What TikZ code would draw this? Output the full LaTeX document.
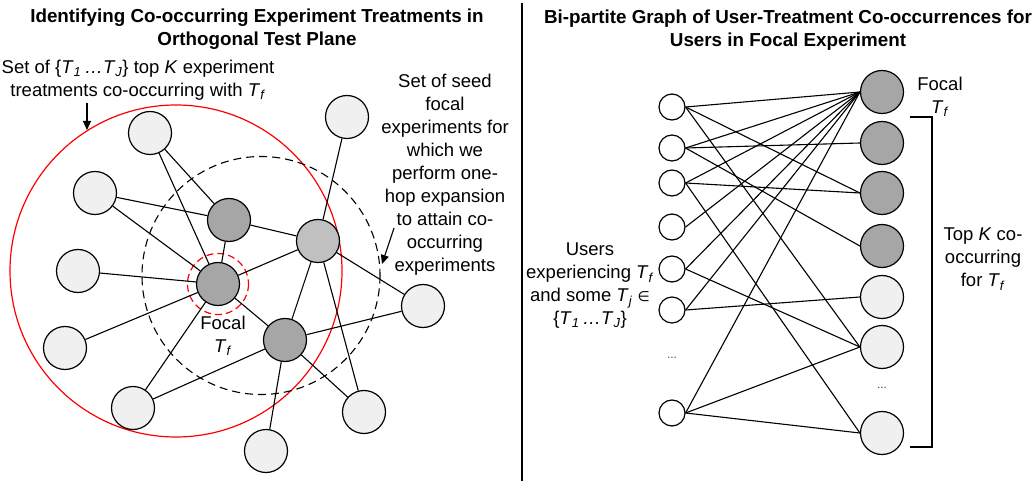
\documentclass[tikz,border=0pt]{standalone}
\usepackage{fontspec}
\setmainfont{Liberation Sans}
\newfontfamily\symfont{DejaVu Sans}
\usetikzlibrary{arrows.meta}
\newcommand{\Tf}{\textit{T}\textsubscript{\textit{f}}}
\newcommand{\TsetJ}{\{\textit{T}\textsubscript{\textit{1}}\,\textit{\dots T}\textsubscript{\textit{J}}\}}
\definecolor{darkfill}{HTML}{A6A6A6}
\definecolor{midfill}{HTML}{C0C0C0}
\definecolor{lightfill}{HTML}{F0F0F0}
\definecolor{ringred}{HTML}{FF0000}
\tikzset{
  base/.style={circle, draw=black, line width=1.2pt, inner sep=0pt},
  exlight/.style={base, fill=lightfill, minimum size=43pt},
  exdark/.style={base, fill=darkfill, minimum size=43pt},
  exmid/.style={base, fill=midfill, minimum size=43pt},
  usernode/.style={base, fill=white, minimum size=26pt},
  link/.style={draw=black, line width=1.1pt},
  label/.style={font=\fontsize{18.5}{23}\selectfont, align=center, inner sep=0pt},
  heading/.style={font=\fontsize{18.8}{23}\selectfont\bfseries, align=center, inner sep=0pt},
  dots/.style={font=\fontsize{12}{14}\selectfont, text=black!70, inner sep=0pt},
}
\begin{document}
\begin{tikzpicture}[x=1pt,y=-1pt]
\useasboundingbox (0,0) rectangle (1034,481);
\fill[white] (0,0) rectangle (1034,481);

% ---------- headings and divider ----------
\node[heading] (t1) at (257,29.5) {Identifying Co-occurring Experiment Treatments in\\Orthogonal Test Plane};
\node[heading] (t2) at (788,30) {Bi-partite Graph of User-Treatment Co-occurrences for\\Users in Focal Experiment};
\coordinate (divtop) at (522,3);
\coordinate (divbot) at (522,481);
\draw[line width=2pt] (divtop) -- (divbot);

% ---------- left panel: co-occurrence neighbourhood ----------
\draw[ringred, line width=1.2pt] (176,271) circle (166);
\draw[black, line width=1.1pt, dash pattern=on 8pt off 5pt] (261,275.5) circle (119);
\draw[ringred, line width=1.2pt, dash pattern=on 7pt off 4pt] (218,284) circle (30.5);

\node[exlight] (A) at (150,133) {};
\node[exlight] (B) at (95,193) {};
\node[exlight] (C) at (347,117) {};
\node[exdark]  (D) at (229,220) {};
\node[exmid]   (E) at (318,241) {};
\node[exdark]  (F) at (218,284) {};
\node[exdark]  (G) at (285,340) {};
\node[exlight] (H) at (78,271) {};
\node[exlight] (I) at (65,348) {};
\node[exlight] (J) at (133,408) {};
\node[exlight] (K) at (266,451) {};
\node[exlight] (L) at (364,412) {};
\node[exlight] (M) at (423,306) {};

\foreach \a/\b in {A/D, A/F, B/D, B/F, D/E, D/F, C/E, E/F, E/G, E/L, E/M,
                   H/F, I/F, F/G, F/J, J/G, G/M, G/K, G/L}
  \path[link] (\a) -- (\b);

\node[label] (focalL) at (223,336) {Focal\\\Tf};

\node[label] (setK) at (138,80) {Set of \TsetJ\ top \textit{K} experiment\\treatments co-occurring with \Tf};
\coordinate (setKtip) at (87,130);
\draw[line width=1.1pt, -{Triangle[length=9pt,width=8pt]}] (87,103) -- (setKtip);

\node[label] (seed) at (445,175) {Set of seed\\focal\\experiments for\\which we\\perform one-\\hop expansion\\to attain co-\\occurring\\experiments};
\coordinate (seedtip) at (382,264);
\draw[line width=1.1pt, -{Triangle[length=9pt,width=8pt]}] (394,228) -- (seedtip);

% ---------- right panel: bipartite user-treatment graph ----------
\foreach \n/\y in {1/107, 2/148, 3/183, 4/227, 5/269, 6/310, 7/413}
  \node[usernode] (u\n) at (672,\y) {};
\node[dots] (udots) at (672,358) {...};

\node[exdark]  (v1) at (882,92) {};
\node[exdark]  (v2) at (882,143) {};
\node[exdark]  (v3) at (882,193) {};
\node[exdark]  (v4) at (882,246) {};
\node[exlight] (v5) at (882,297) {};
\node[exlight] (v6) at (882,347) {};
\node[exlight] (v7) at (882,433) {};
\node[dots] (vdots) at (882,388) {...};

\foreach \a/\b in {1/1, 1/3, 1/6, 2/1, 2/2, 2/4, 3/1, 3/3, 3/7,
                   4/1, 5/1, 5/6, 6/1, 6/5, 7/1, 7/6, 7/7}
  \path[link] (u\a.east) -- (v\b.west);

\node[label] (focalR) at (940,97) {Focal\\\Tf};
\node[label] (topK) at (983,259) {Top \textit{K} co-\\occurring\\for \Tf};
\node[label] (users) at (590,286) {Users\\experiencing \Tf\\and some \textit{T}\textsubscript{\textit{j}} {\symfont\fontsize{14}{14}\selectfont ∈}\\\TsetJ};

\coordinate (br1) at (910,117);
\coordinate (br2) at (932,117);
\coordinate (br3) at (932,447);
\coordinate (br4) at (910,447);
\draw[line width=1.2pt] (br1) -- (br2) -- (br3) -- (br4);
\end{tikzpicture}
\end{document}
